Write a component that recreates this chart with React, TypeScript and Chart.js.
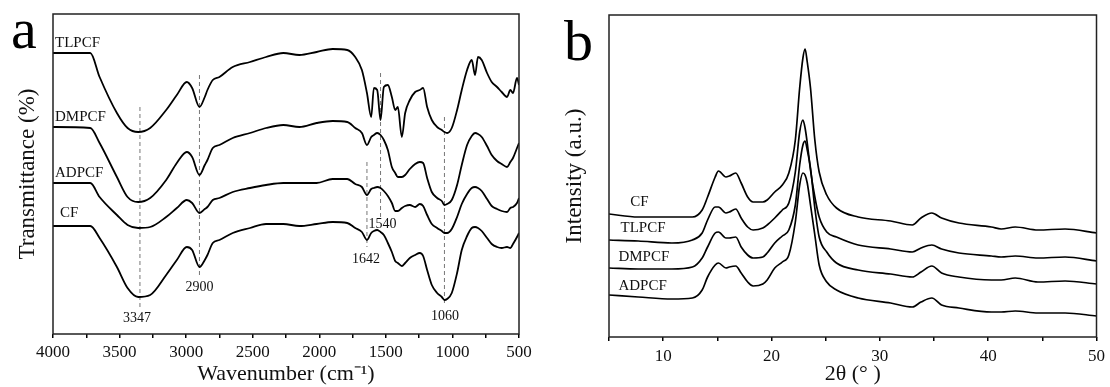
import { useEffect, useRef } from "react";
import { Chart, registerables } from "chart.js";

Chart.register(...registerables);

const SERIF = '"Liberation Serif", "Times New Roman", serif';

// ---------- Panel a: FTIR ----------
const WAVENUMBERS = [
  4000, 3720, 3650, 3520, 3440, 3360, 3270, 3150, 3070, 2995,
  2955, 2900, 2860, 2840, 2800, 2750, 2650, 2520, 2400, 2270,
  2150, 2020, 1900, 1790, 1730, 1680, 1642, 1610, 1590, 1565,
  1540, 1515, 1485, 1455, 1430, 1410, 1380, 1355, 1320, 1280,
  1245, 1220, 1190, 1155, 1115, 1080, 1060, 1040, 1005, 965,
  930, 890, 855, 830, 808, 780, 740, 705, 665, 630,
  590, 565, 545, 515, 500,
];
const TLPCF_T = [
  281, 281, 257, 221, 206, 202, 206, 224, 239, 252,
  246, 227, 237, 244, 254, 257, 267, 272, 277, 281,
  279, 282, 285, 284, 277, 264, 241, 217, 246, 244,
  214, 247, 249, 237, 224, 227, 197, 221, 234, 242,
  244, 246, 227, 214, 207, 204, 202, 201, 206, 224,
  244, 264, 274, 259, 277, 274, 261, 252, 247, 242,
  237, 244, 241, 256, 249,
];
const DMPCF_T = [
  207, 206, 191, 157, 137, 132, 136, 154, 171, 182,
  177, 159, 169, 174, 186, 189, 196, 201, 206, 209,
  207, 211, 213, 212, 206, 201, 189, 197, 199, 201,
  199, 194, 184, 167, 161, 157, 157, 159, 165, 170,
  172, 171, 156, 142, 136, 133, 129, 130, 134, 149,
  169, 189, 198, 201, 200, 197, 188, 179, 173, 170,
  167, 172, 176, 186, 191,
];
const ADPCF_T = [
  151, 151, 137, 119, 109, 106, 107, 117, 126, 134,
  131, 121, 125, 127, 134, 136, 142, 146, 149, 151,
  151, 151, 155, 155, 150, 147, 139, 145, 146, 147,
  146, 143, 138, 131, 123, 123, 126, 128, 129, 127,
  130, 128, 119, 110, 106, 103, 101, 101, 105, 117,
  130, 140, 146, 147, 146, 143, 135, 128, 125, 123,
  122, 126, 127, 131, 136,
];
const CF_T = [
  108, 108, 96, 67, 46, 37, 39, 59, 74, 87,
  84, 67, 74, 79, 91, 94, 101, 106, 110, 110,
  108, 110, 112, 111, 106, 102, 94, 101, 103, 104,
  102, 99, 91, 82, 73, 71, 68, 71, 76, 79,
  81, 78, 64, 49, 41, 37, 34, 35, 41, 61,
  84, 98, 106, 107, 106, 103, 96, 90, 87, 86,
  87, 86, 90, 97, 101,
];
const FTIR_NAMES = ["TLPCF", "DMPCF", "ADPCF", "CF"];
const FTIR_NAME_X = [3985, 3985, 3985, 3947];
const FTIR_NAME_Y = [291, 217, 161, 121];

const PEAKS = [3347, 2900, 1642, 1540, 1060];
const PEAK_LINE_TOP = [227, 259, 172, 261, 217];
const PEAK_LINE_BOTTOM = [27, 56, 87, 114, 29];
const PEAK_LABEL_X = [3370, 2900, 1650, 1525, 1055];
const PEAK_LABEL_Y = [16, 47, 75, 110, 18];

// ---------- Panel b: XRD ----------
const TWO_THETA = [
  5, 7.7, 10.8, 12.7, 13.6, 14.1, 14.8, 15.1, 15.8, 16.1,
  16.7, 17.2, 17.8, 18.3, 19.2, 19.6, 20.3, 21.0, 21.6, 22.2,
  22.6, 22.9, 23.1, 23.3, 23.6, 24.0, 24.4, 25.1, 26.0, 28.0,
  31.0, 33.0, 33.8, 34.8, 35.7, 37.3, 40.3, 41.2, 42.5, 44.6,
  47.1, 50,
];
const CF_I = [
  123, 120, 120, 120, 127, 140, 160, 166, 160, 161,
  164, 154, 140, 135, 135, 137, 145, 152, 164, 197,
  249, 279, 288, 275, 249, 197, 165, 142, 129, 120,
  116, 112, 119, 124, 119, 114, 110, 108, 110, 107,
  108, 104,
];
const TLPCF_I = [
  97, 96, 94, 97, 104, 117, 130, 130, 124, 125,
  128, 119, 110, 107, 109, 112, 119, 127, 134, 165,
  205, 217, 209, 194, 167, 140, 120, 105, 100, 92,
  88, 85, 89, 92, 88, 84, 81, 80, 81, 79,
  80, 76,
];
const DMPCF_I = [
  69, 68, 68, 70, 79, 90, 104, 105, 99, 99,
  100, 90, 82, 79, 80, 84, 94, 101, 107, 132,
  172, 192, 196, 187, 169, 129, 100, 85, 74, 67,
  63, 60, 65, 71, 64, 60, 57, 57, 59, 55,
  56, 53,
];
const ADPCF_I = [
  42, 40, 38, 39, 47, 60, 72, 74, 69, 70,
  71, 64, 55, 51, 53, 57, 69, 75, 82, 115,
  152, 164, 162, 154, 132, 102, 72, 55, 47, 39,
  34, 30, 35, 39, 32, 29, 25, 25, 26, 24,
  24, 21,
];
const XRD_NAMES = ["CF", "TLPCF", "DMPCF", "ADPCF"];
const XRD_NAME_X = [6.97, 6.06, 5.87, 5.87];
const XRD_NAME_Y = [135, 109, 80, 51];

function boxAndText(
  letter: string,
  letterX: number,
  letterY: number,
  names: string[],
  nx: number[],
  ny: number[],
  peakTexts: string[],
  px: number[],
  py: number[]
) {
  return {
    id: "boxAndText",
    afterDraw(chart: any) {
      const { ctx, chartArea } = chart;
      const xs = chart.scales.x;
      const ys = chart.scales.y;
      ctx.save();
      ctx.strokeStyle = "#222";
      ctx.lineWidth = 1.5;
      ctx.strokeRect(
        chartArea.left,
        chartArea.top,
        chartArea.right - chartArea.left,
        chartArea.bottom - chartArea.top
      );
      ctx.fillStyle = "#111";
      ctx.textBaseline = "middle";
      ctx.textAlign = "left";
      ctx.font = `15px ${SERIF}`;
      names.forEach((n, i) => {
        ctx.fillText(n, xs.getPixelForValue(nx[i]), ys.getPixelForValue(ny[i]));
      });
      ctx.textAlign = "center";
      ctx.font = `14px ${SERIF}`;
      peakTexts.forEach((t, i) => {
        ctx.fillText(t, xs.getPixelForValue(px[i]), ys.getPixelForValue(py[i]));
      });
      ctx.textAlign = "left";
      ctx.textBaseline = "alphabetic";
      ctx.font = `58px ${SERIF}`;
      ctx.fillStyle = "#000";
      ctx.fillText(letter, letterX, letterY);
      ctx.restore();
    },
  };
}

function curveStyle() {
  return {
    borderColor: "#000",
    borderWidth: 1.8,
    pointRadius: 0,
    fill: false,
    cubicInterpolationMode: "monotone" as const,
    borderJoinStyle: "round" as const,
  };
}

export default function App() {
  const refA = useRef<HTMLCanvasElement | null>(null);
  const refB = useRef<HTMLCanvasElement | null>(null);

  useEffect(() => {
    const curvesA = [TLPCF_T, DMPCF_T, ADPCF_T, CF_T];
    const dsA: any[] = curvesA.map((vals, k) => ({
      label: FTIR_NAMES[k],
      data: WAVENUMBERS.map((x, i) => ({ x, y: vals[i] })),
      ...curveStyle(),
    }));
    PEAKS.forEach((p, k) => {
      dsA.push({
        label: "peak " + p,
        data: [
          { x: p, y: PEAK_LINE_TOP[k] },
          { x: p, y: PEAK_LINE_BOTTOM[k] },
        ],
        borderColor: "#777",
        borderWidth: 1,
        borderDash: [4, 3],
        pointRadius: 0,
        fill: false,
      });
    });

    const chartA = new Chart(refA.current as HTMLCanvasElement, {
      type: "line",
      data: { datasets: dsA },
      options: {
        responsive: false,
        animation: false,
        devicePixelRatio: 1,
        layout: { padding: { left: 0, top: 14, right: 21, bottom: 0 } },
        plugins: { legend: { display: false }, tooltip: { enabled: false } },
        scales: {
          x: {
            type: "linear",
            min: 500,
            max: 4000,
            reverse: true,
            afterFit: (s: any) => {
              s.height = 53;
            },
            grid: {
              display: true,
              drawOnChartArea: false,
              drawTicks: true,
              tickLength: 4,
              color: "#000",
              lineWidth: 1.5,
            },
            border: { display: false },
            ticks: {
              stepSize: 250,
              autoSkip: false,
              maxRotation: 0,
              padding: 4,
              color: "#111",
              font: { family: SERIF, size: 17 },
              callback: (v: any) => (Number(v) % 500 === 0 ? String(v) : ""),
            },
            title: {
              display: true,
              text: "Wavenumber (cm⁻¹)",
              color: "#111",
              font: { family: SERIF, size: 22 },
              padding: { top: 0, bottom: 0 },
            },
          },
          y: {
            type: "linear",
            min: 0,
            max: 320,
            afterFit: (s: any) => {
              s.width = 53;
            },
            grid: { display: false },
            border: { display: false },
            ticks: { display: false },
            title: {
              display: true,
              text: "Transmittance (%)",
              color: "#111",
              font: { family: SERIF, size: 23 },
              padding: { top: 14, bottom: 0 },
            },
          },
        },
      } as any,
      plugins: [
        boxAndText(
          "a",
          11,
          48,
          FTIR_NAMES,
          FTIR_NAME_X,
          FTIR_NAME_Y,
          PEAKS.map(String),
          PEAK_LABEL_X,
          PEAK_LABEL_Y
        ),
      ],
    });

    const curvesB = [CF_I, TLPCF_I, DMPCF_I, ADPCF_I];
    const dsB: any[] = curvesB.map((vals, k) => ({
      label: XRD_NAMES[k],
      data: TWO_THETA.map((x, i) => ({ x, y: vals[i] })),
      ...curveStyle(),
      borderWidth: 1.7,
    }));

    const chartB = new Chart(refB.current as HTMLCanvasElement, {
      type: "line",
      data: { datasets: dsB },
      options: {
        responsive: false,
        animation: false,
        devicePixelRatio: 1,
        layout: { padding: { left: 0, top: 15, right: 11, bottom: 0 } },
        plugins: { legend: { display: false }, tooltip: { enabled: false } },
        scales: {
          x: {
            type: "linear",
            min: 5,
            max: 50,
            afterFit: (s: any) => {
              s.height = 50;
            },
            grid: {
              display: true,
              drawOnChartArea: false,
              drawTicks: true,
              tickLength: 4,
              color: "#000",
              lineWidth: 1.5,
            },
            border: { display: false },
            ticks: {
              stepSize: 5,
              autoSkip: false,
              maxRotation: 0,
              padding: 5,
              color: "#111",
              font: { family: SERIF, size: 17 },
              callback: (v: any) => (Number(v) % 10 === 0 ? String(v) : ""),
            },
            title: {
              display: true,
              text: "2θ (° )",
              color: "#111",
              font: { family: SERIF, size: 22 },
              padding: { top: 0, bottom: 0 },
            },
          },
          y: {
            type: "linear",
            min: 0,
            max: 322,
            afterFit: (s: any) => {
              s.width = 69;
            },
            grid: { display: false },
            border: { display: false },
            ticks: { display: false },
            title: {
              display: true,
              text: "Intensity (a.u.)",
              color: "#111",
              font: { family: SERIF, size: 23 },
              padding: { top: 21, bottom: 0 },
            },
          },
        },
      } as any,
      plugins: [
        boxAndText("b", 24, 60, XRD_NAMES, XRD_NAME_X, XRD_NAME_Y, [], [], []),
      ],
    });

    return () => {
      chartA.destroy();
      chartB.destroy();
    };
  }, []);

  return (
    <div
      style={{
        position: "absolute",
        left: 0,
        top: 0,
        width: 1110,
        height: 387,
        background: "#fff",
      }}
    >
      <canvas
        ref={refA}
        width={540}
        height={387}
        style={{ position: "absolute", left: 0, top: 0, width: 540, height: 387 }}
      />
      <canvas
        ref={refB}
        width={570}
        height={387}
        style={{ position: "absolute", left: 540, top: 0, width: 570, height: 387 }}
      />
    </div>
  );
}
